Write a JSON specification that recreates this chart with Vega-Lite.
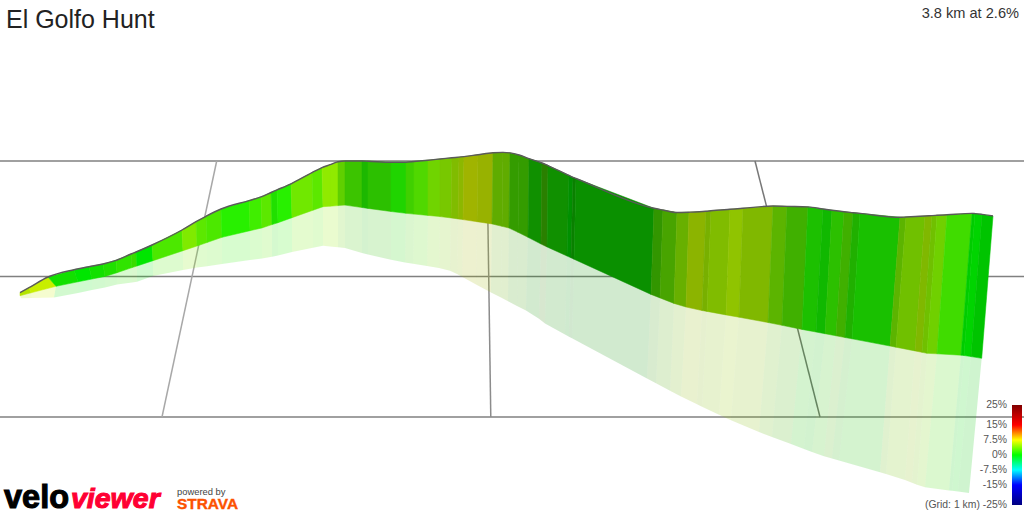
{"$schema":"https://vega.github.io/schema/vega-lite/v6.json","width":1024,"height":512,"padding":0,"autosize":"none","background":"white","config":{"view":{"stroke":null}},
"datasets":{"sec":[
{"i":1,"tx":20,"ty":292.7,"bx":20,"by":295.7,"rx":21,"ry":298.3,"s":1},
{"i":2,"tx":29,"ty":287.7,"bx":31,"by":292.8,"rx":32,"ry":298,"s":2},
{"i":3,"tx":48,"ty":277,"bx":56,"by":286.3,"rx":54,"ry":297.4,"s":3},
{"i":4,"tx":74,"ty":269.7,"bx":78,"by":281.8,"rx":78,"ry":292.9,"s":4},
{"i":5,"tx":89,"ty":266.7,"bx":92,"by":279,"rx":92,"ry":290,"s":3},
{"i":6,"tx":103,"ty":264,"bx":105,"by":276.4,"rx":105,"ry":287.4,"s":5},
{"i":7,"tx":116,"ty":260.3,"bx":117,"by":272.7,"rx":117,"ry":284.5,"s":6},
{"i":8,"tx":131,"ty":254,"bx":132,"by":267.6,"rx":132,"ry":282.6,"s":7},
{"i":9,"tx":136,"ty":252,"bx":137,"by":266,"rx":137,"ry":281.7,"s":4},
{"i":10,"tx":152,"ty":245,"bx":153,"by":260.7,"rx":153,"ry":276,"s":8},
{"i":11,"tx":182,"ty":230,"bx":183,"by":250.7,"rx":183,"ry":270,"s":9},
{"i":12,"tx":196,"ty":221.7,"bx":197,"by":246,"rx":197,"ry":267.6,"s":10},
{"i":13,"tx":206,"ty":216.3,"bx":207,"by":242.5,"rx":207,"ry":266.2,"s":8},
{"i":14,"tx":221,"ty":209,"bx":222,"by":237.3,"rx":222,"ry":264,"s":11},
{"i":15,"tx":249,"ty":200.6,"bx":250,"by":230.7,"rx":250,"ry":260.1,"s":12},
{"i":16,"tx":261,"ty":196.9,"bx":262,"by":227.9,"rx":262,"ry":258.4,"s":10},
{"i":17,"tx":271,"ty":192.5,"bx":272,"by":224.6,"rx":272,"ry":256.8,"s":5},
{"i":18,"tx":277,"ty":189.9,"bx":278,"by":222.7,"rx":278,"ry":255.4,"s":11},
{"i":19,"tx":291,"ty":183.8,"bx":292,"by":217.7,"rx":292,"ry":252,"s":13},
{"i":20,"tx":312,"ty":172.6,"bx":313,"by":210.2,"rx":313,"ry":247.7,"s":10},
{"i":21,"tx":322,"ty":167.6,"bx":323,"by":206.7,"rx":323,"ry":245.7,"s":14},
{"i":22,"tx":330,"ty":164.7,"bx":330,"by":206.2,"rx":330,"ry":246.5,"s":14},
{"i":23,"tx":338,"ty":161.7,"bx":338,"by":205.6,"rx":338,"ry":247.3,"s":15},
{"i":24,"tx":345,"ty":161,"bx":345,"by":205.1,"rx":345,"ry":248.1,"s":16},
{"i":25,"tx":362,"ty":161,"bx":362,"by":207.5,"rx":362,"ry":253,"s":17},
{"i":26,"tx":368,"ty":161.2,"bx":368,"by":208.4,"rx":368,"ry":254.4,"s":18},
{"i":27,"tx":391,"ty":162.3,"bx":391,"by":211.5,"rx":391,"ry":259.7,"s":19},
{"i":28,"tx":406,"ty":162.2,"bx":406,"by":213.3,"rx":405,"ry":262.5,"s":20},
{"i":29,"tx":414,"ty":161.5,"bx":414,"by":214.1,"rx":413,"ry":263.8,"s":21},
{"i":30,"tx":428,"ty":160.2,"bx":428,"by":215.4,"rx":427,"ry":266.1,"s":22},
{"i":31,"tx":440,"ty":159,"bx":440,"by":216.6,"rx":439,"ry":268,"s":23},
{"i":32,"tx":452,"ty":157.8,"bx":451,"by":217.9,"rx":450,"ry":270.7,"s":24},
{"i":33,"tx":459,"ty":157.1,"bx":458,"by":218.9,"rx":457,"ry":274.1,"s":25},
{"i":34,"tx":464,"ty":156.6,"bx":463,"by":219.6,"rx":462,"ry":276.7,"s":26},
{"i":35,"tx":478,"ty":154.7,"bx":477,"by":221.7,"rx":476,"ry":284.4,"s":27},
{"i":36,"tx":493,"ty":152.7,"bx":492,"by":223.9,"rx":491,"ry":292.5,"s":28},
{"i":36.5,"tx":503,"ty":152.4,"bx":502,"by":226.3,"rx":501,"ry":297.6,"s":28},
{"i":36.7,"tx":510,"ty":152.9,"bx":509,"by":228,"rx":508,"ry":301.2,"s":29},
{"i":37,"tx":519,"ty":155,"bx":518,"by":232.3,"rx":517,"ry":306,"s":29},
{"i":38,"tx":529,"ty":158.7,"bx":528,"by":237.3,"rx":526,"ry":310.4,"s":30},
{"i":39,"tx":542,"ty":163,"bx":541,"by":244,"rx":539,"ry":318.7,"s":31},
{"i":40,"tx":548,"ty":165.6,"bx":547,"by":246.9,"rx":545,"ry":323.4,"s":30},
{"i":41,"tx":569,"ty":175.4,"bx":567,"by":256,"rx":565,"ry":334.6,"s":32},
{"i":42,"tx":573,"ty":177.3,"bx":571,"by":257.8,"rx":569,"ry":336.7,"s":33},
{"i":43,"tx":576,"ty":178.5,"bx":574,"by":259.2,"rx":572,"ry":338.3,"s":34},
{"i":44,"tx":654,"ty":208.3,"bx":651,"by":294.4,"rx":647,"ry":378.4,"s":35},
{"i":45,"tx":663,"ty":210,"bx":660,"by":297.9,"rx":656,"ry":383.2,"s":36},
{"i":46,"tx":677,"ty":212.5,"bx":674,"by":303.4,"rx":670,"ry":390.7,"s":37},
{"i":47,"tx":689,"ty":212.2,"bx":686,"by":307,"rx":681,"ry":396.5,"s":38},
{"i":48,"tx":706,"ty":211.3,"bx":702,"by":310.5,"rx":697,"ry":404.2,"s":39},
{"i":49,"tx":711,"ty":210.8,"bx":707,"by":311.4,"rx":702,"ry":406.7,"s":24},
{"i":50,"tx":730,"ty":209.3,"bx":726,"by":314.9,"rx":719,"ry":414.8,"s":40},
{"i":51,"tx":743,"ty":208.3,"bx":739,"by":317.2,"rx":731,"ry":420.2,"s":41},
{"i":52,"tx":773,"ty":206,"bx":768,"by":322.5,"rx":759,"ry":432,"s":42},
{"i":53,"tx":787,"ty":206.4,"bx":782,"by":325.3,"rx":772,"ry":437,"s":43},
{"i":54,"tx":808,"ty":206.9,"bx":802,"by":329.4,"rx":791,"ry":443.9,"s":44},
{"i":55,"tx":823,"ty":209,"bx":816,"by":332,"rx":804,"ry":448.9,"s":45},
{"i":56,"tx":832,"ty":210.3,"bx":825,"by":333.7,"rx":812,"ry":452,"s":18},
{"i":57,"tx":844,"ty":211.8,"bx":836,"by":335.8,"rx":824,"ry":456.2,"s":43},
{"i":58,"tx":853,"ty":212.7,"bx":845,"by":337.5,"rx":832,"ry":458.6,"s":46},
{"i":59,"tx":860,"ty":213.4,"bx":852,"by":338.8,"rx":839,"ry":460.6,"s":47},
{"i":60,"tx":900,"ty":217.3,"bx":890,"by":346,"rx":880,"ry":472.3,"s":42},
{"i":61,"tx":906,"ty":217,"bx":896,"by":347.2,"rx":886,"ry":474,"s":48},
{"i":62,"tx":925,"ty":216,"bx":915,"by":350.9,"rx":905,"ry":480,"s":41},
{"i":63,"tx":932,"ty":215.6,"bx":922,"by":352.3,"rx":912,"ry":482.8,"s":48},
{"i":64,"tx":937,"ty":215.3,"bx":927,"by":353.3,"rx":917,"ry":484.7,"s":49},
{"i":65,"tx":947,"ty":214.8,"bx":937,"by":353.8,"rx":925,"ry":487.3,"s":50},
{"i":66,"tx":972,"ty":213.4,"bx":961,"by":355.2,"rx":949,"ry":490.4,"s":51},
{"i":67,"tx":975,"ty":213.6,"bx":964,"by":355.5,"rx":952,"ry":490.8,"s":52},
{"i":68,"tx":982,"ty":214.4,"bx":971,"by":356.6,"rx":958,"ry":491.6,"s":53},
{"i":69,"tx":993,"ty":216,"bx":981.7,"by":358.3,"rx":969,"ry":493,"s":53}
]},
"layer":[
{"data":{"values":[
{"l":"h1","d":"h","x":0,"y":161},{"l":"h1","d":"h","x":1024,"y":161},
{"l":"h2","d":"h","x":0,"y":276.5},{"l":"h2","d":"h","x":1024,"y":276.5},
{"l":"h3","d":"h","x":0,"y":417},{"l":"h3","d":"h","x":1024,"y":417},
{"l":"v1","d":"far","x":216.7,"y":161},{"l":"v1","d":"far","x":162,"y":417},
{"l":"v2","d":"mid","x":487,"y":161},{"l":"v2","d":"mid","x":490.8,"y":417},
{"l":"v3","d":"near","x":755,"y":161},{"l":"v3","d":"near","x":820,"y":417}
]},
"mark":{"type":"line","strokeWidth":1.5,"clip":true},
"encoding":{"x":{"field":"x","type":"quantitative","scale":{"domain":[0,1024],"nice":false,"zero":false},"axis":null},
"y":{"field":"y","type":"quantitative","scale":{"domain":[512,0],"nice":false,"zero":false},"axis":null},
"detail":{"field":"l"},
"color":{"field":"d","type":"nominal","legend":null,"scale":{"domain":["h","far","mid","near"],"range":["#808080","#a8a8a8","#8c8c8c","#787878"]}}}},
{"data":{"name":"sec"},
"transform":[{"window":[{"op":"lead","field":"bx","as":"nbx"},{"op":"lead","field":"by","as":"nby"},{"op":"lead","field":"rx","as":"nrx"},{"op":"lead","field":"ry","as":"nry"}],"sort":[{"field":"i"}]},{"filter":"datum.i<69"},
{"calculate":"[datum.bx,datum.nbx,datum.nrx,datum.rx]","as":"px"},{"calculate":"[datum.by,datum.nby,datum.nry,datum.ry]","as":"py"},{"calculate":"[0,1,2,3]","as":"k"},{"flatten":["px","py","k"]}],
"mark":{"type":"line","interpolate":"linear-closed","strokeWidth":0,"fillOpacity":0.19},
"encoding":{"x":{"field":"px","type":"quantitative"},"y":{"field":"py","type":"quantitative"},"order":{"field":"k"},"detail":{"field":"i"},
"fill":{"field":"s","type":"ordinal","legend":null,"scale":{"domain":[1,2,3,4,5,6,7,8,9,10,11,12,13,14,15,16,17,18,19,20,21,22,23,24,25,26,27,28,29,30,31,32,33,34,35,36,37,38,39,40,41,42,43,44,45,46,47,48,49,50,51,52,53],"range":["#b4e400","#c8ee00","#12e000","#00e600","#20e000","#30e400","#38dc00","#4ce800","#80ea00","#5ce800","#28f000","#40ee00","#70e800","#90ea00","#60d000","#3cc400","#1cb800","#2cc000","#20d400","#40d000","#50d800","#70d400","#78c800","#80bc00","#8cb800","#a0b400","#98b200","#60ac00","#349c00","#109000","#2a8000","#009000","#0a8000","#0a9000","#329600","#48a400","#68b000","#8cb400","#78b000","#90c400","#80b800","#5cb400","#40b000","#1cc000","#10b800","#20b000","#19c000","#70c000","#70d000","#40dc00","#00cc00","#00d400","#00c400"]}}}},
{"data":{"name":"sec"},
"transform":[{"window":[{"op":"lead","field":"tx","as":"ntx"},{"op":"lead","field":"ty","as":"nty"},{"op":"lead","field":"bx","as":"nbx"},{"op":"lead","field":"by","as":"nby"}],"sort":[{"field":"i"}]},{"filter":"datum.i<69"},
{"calculate":"[datum.tx,datum.ntx,datum.nbx,datum.bx]","as":"px"},{"calculate":"[datum.ty,datum.nty,datum.nby,datum.by]","as":"py"},{"calculate":"[0,1,2,3]","as":"k"},{"flatten":["px","py","k"]}],
"mark":{"type":"line","interpolate":"linear-closed","strokeWidth":0.6,"strokeOpacity":0.9},
"encoding":{"x":{"field":"px","type":"quantitative"},"y":{"field":"py","type":"quantitative"},"order":{"field":"k"},"detail":{"field":"i"},
"fill":{"field":"s","type":"ordinal","legend":null},"stroke":{"field":"s","type":"ordinal","legend":null,"scale":{"domain":[1,2,3,4,5,6,7,8,9,10,11,12,13,14,15,16,17,18,19,20,21,22,23,24,25,26,27,28,29,30,31,32,33,34,35,36,37,38,39,40,41,42,43,44,45,46,47,48,49,50,51,52,53],"range":["#b4e400","#c8ee00","#12e000","#00e600","#20e000","#30e400","#38dc00","#4ce800","#80ea00","#5ce800","#28f000","#40ee00","#70e800","#90ea00","#60d000","#3cc400","#1cb800","#2cc000","#20d400","#40d000","#50d800","#70d400","#78c800","#80bc00","#8cb800","#a0b400","#98b200","#60ac00","#349c00","#109000","#2a8000","#009000","#0a8000","#0a9000","#329600","#48a400","#68b000","#8cb400","#78b000","#90c400","#80b800","#5cb400","#40b000","#1cc000","#10b800","#20b000","#19c000","#70c000","#70d000","#40dc00","#00cc00","#00d400","#00c400"]}}}},
{"data":{"name":"sec"},"mark":{"type":"line","interpolate":"monotone","stroke":"#5a5a5a","strokeWidth":1.4},
"encoding":{"x":{"field":"tx","type":"quantitative"},"y":{"field":"ty","type":"quantitative"},"order":{"field":"i"}}},
{"data":{"values":[{"x":1012,"x2":1022,"y":405,"y2":505}]},
"mark":{"type":"rect","fill":{"gradient":"linear","x1":0,"y1":0,"x2":0,"y2":1,"stops":[{"offset":0,"color":"#800000"},{"offset":0.2,"color":"#ff0000"},{"offset":0.35,"color":"#ffff00"},{"offset":0.5,"color":"#00ff00"},{"offset":0.65,"color":"#00ffff"},{"offset":0.8,"color":"#0000ff"},{"offset":1,"color":"#000080"}]}},
"encoding":{"x":{"field":"x","type":"quantitative"},"x2":{"field":"x2"},"y":{"field":"y","type":"quantitative"},"y2":{"field":"y2"}}},
{"data":{"values":[{"t":"25%","x":1007,"y":405},{"t":"15%","x":1007,"y":425},{"t":"7.5%","x":1007,"y":439.5},{"t":"0%","x":1007,"y":455},{"t":"-7.5%","x":1007,"y":470},{"t":"-15%","x":1007,"y":485},{"t":"(Grid: 1 km) -25%","x":1007,"y":505}]},
"mark":{"type":"text","align":"right","baseline":"middle","font":"Liberation Sans","fontSize":10.4,"color":"#555555"},
"encoding":{"x":{"field":"x","type":"quantitative"},"y":{"field":"y","type":"quantitative"},"text":{"field":"t"}}},
{"data":{"values":[{"t":"El Golfo Hunt","x":6,"y":28}]},
"mark":{"type":"text","align":"left","baseline":"alphabetic","font":"Liberation Sans","fontSize":25,"color":"#222222"},
"encoding":{"x":{"field":"x","type":"quantitative"},"y":{"field":"y","type":"quantitative"},"text":{"field":"t"}}},
{"data":{"values":[{"t":"3.8 km at 2.6%","x":1019,"y":18}]},
"mark":{"type":"text","align":"right","baseline":"alphabetic","font":"Liberation Sans","fontSize":14.6,"color":"#333333"},
"encoding":{"x":{"field":"x","type":"quantitative"},"y":{"field":"y","type":"quantitative"},"text":{"field":"t"}}},
{"data":{"values":[{"t":"velo","x":4,"y":508}]},
"mark":{"type":"text","align":"left","baseline":"alphabetic","font":"Liberation Sans","fontWeight":"bold","fontSize":32.5,"color":"#000000","stroke":"#000000","strokeWidth":1.1},
"encoding":{"x":{"field":"x","type":"quantitative"},"y":{"field":"y","type":"quantitative"},"text":{"field":"t"}}},
{"data":{"values":[{"t":"viewer","x":71,"y":508}]},
"mark":{"type":"text","align":"left","baseline":"alphabetic","font":"Liberation Sans","fontWeight":"bold","fontStyle":"italic","fontSize":28.5,"color":"#ff0033","stroke":"#ff0033","strokeWidth":1.1},
"encoding":{"x":{"field":"x","type":"quantitative"},"y":{"field":"y","type":"quantitative"},"text":{"field":"t"}}},
{"data":{"values":[{"t":"powered by","x":177,"y":495}]},
"mark":{"type":"text","align":"left","baseline":"alphabetic","font":"Liberation Sans","fontSize":9.4,"color":"#444444"},
"encoding":{"x":{"field":"x","type":"quantitative"},"y":{"field":"y","type":"quantitative"},"text":{"field":"t"}}},
{"data":{"values":[{"t":"STRAVA","x":177,"y":509}]},
"mark":{"type":"text","align":"left","baseline":"alphabetic","font":"Liberation Sans","fontWeight":"bold","fontSize":15.4,"color":"#fc5200","stroke":"#fc5200","strokeWidth":0.4},
"encoding":{"x":{"field":"x","type":"quantitative"},"y":{"field":"y","type":"quantitative"},"text":{"field":"t"}}}
],
"resolve":{"scale":{"color":"independent"}}
}
